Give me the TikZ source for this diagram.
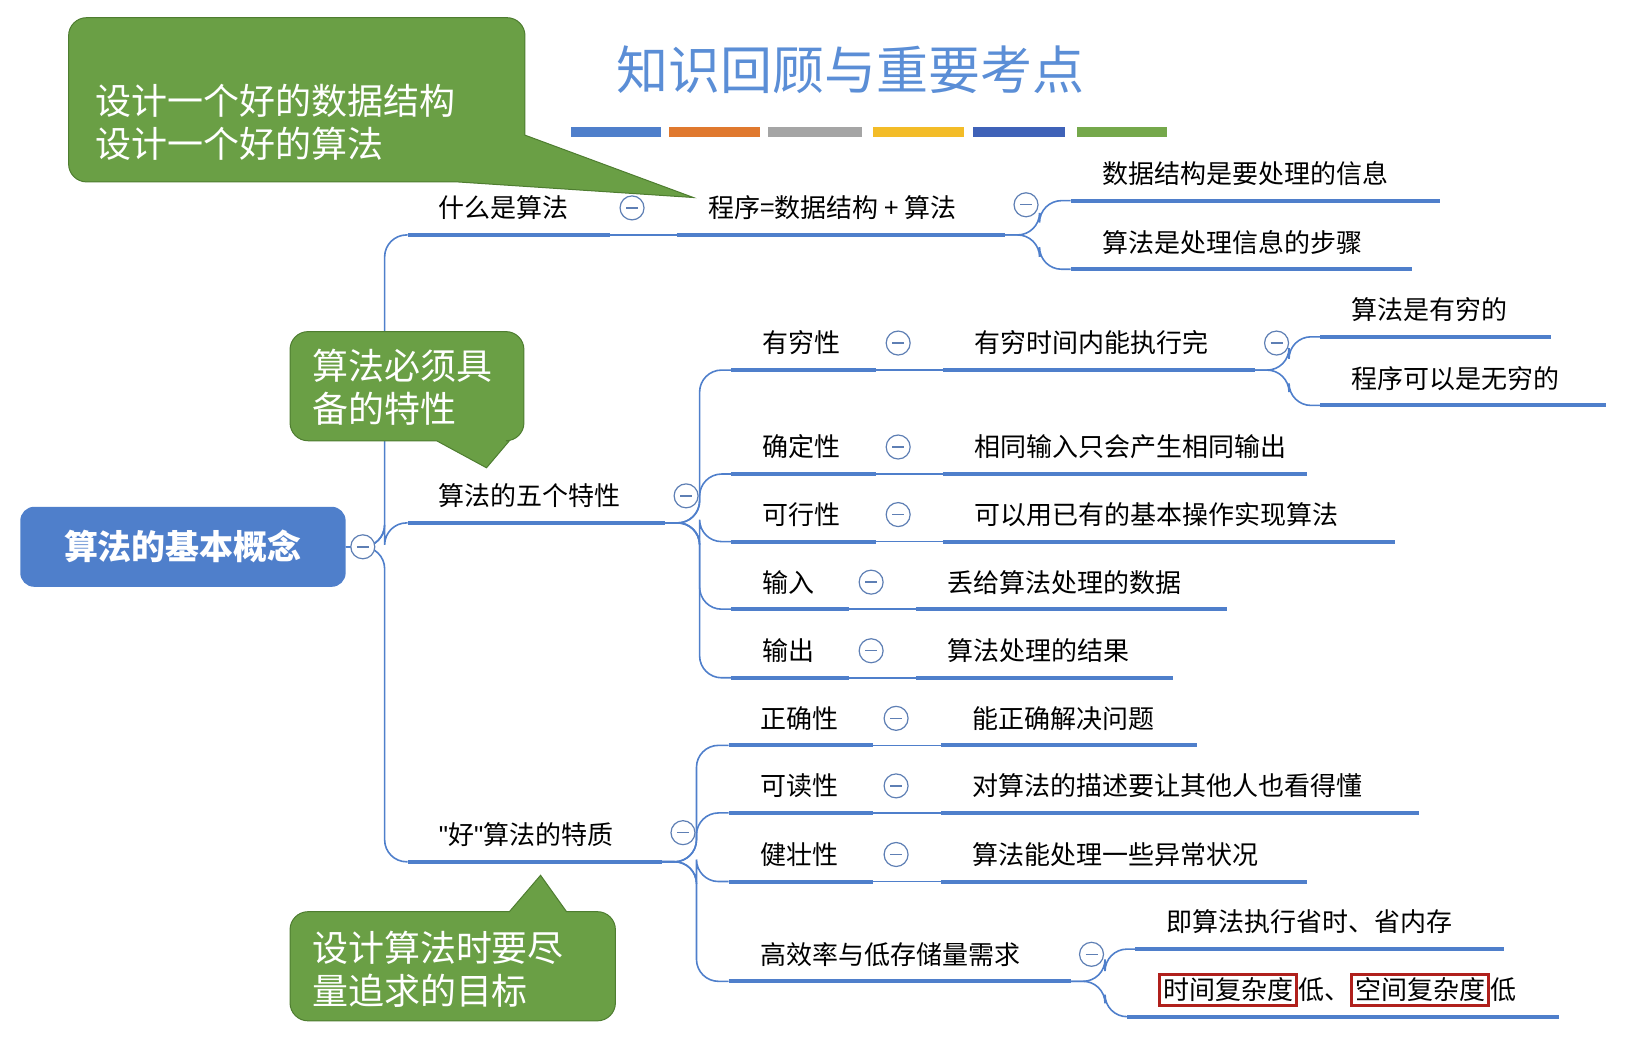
\documentclass[tikz,border=0pt]{standalone}
\usepackage{fontspec}
\setmainfont{Noto Sans CJK SC}
\newfontfamily\qfont{Liberation Sans}
\definecolor{mmblue}{HTML}{4F7FCB}
\definecolor{mmgreen}{HTML}{6A9F45}
\definecolor{mmgreend}{HTML}{4E7D30}
\definecolor{mmtitle}{HTML}{5B8ED6}
\definecolor{mmred}{HTML}{B0201C}
\tikzset{
  item/.style={anchor=west, inner sep=0pt, font=\fontsize{26}{30}\selectfont},
  uline/.style={mmblue, line width=4pt},
  conn/.style={mmblue, line width=1.6pt, rounded corners=22pt},
  fold/.style={circle, draw=mmblue!70!gray, line width=1.2pt, fill=white, minimum size=24pt, inner sep=0pt,
    path picture={\draw[mmblue!70!gray, line width=1.4pt] ([xshift=6pt]path picture bounding box.west) -- ([xshift=-6pt]path picture bounding box.east);}},
  callout/.style={fill=mmgreen, draw=mmgreend, line width=1pt},
  calltext/.style={anchor=west, inner sep=0pt, text=white, font=\fontsize{36}{40}\selectfont},
}
% one item of the map: name, line start, line end, y, text
\newcommand\mmitem[5]{%
  \node[item] (#1) at (#2+30,#4) {#5};
  \coordinate (#1-l) at (#2,#4+26);
  \coordinate (#1-r) at (#3,#4+26);
  \draw[uline] (#1-l) -- (#1-r);}
\newcommand\mmfold[3]{\node[fold] (#1) at (#2,#3) {};}
\newcommand\redbox[1]{{\setlength\fboxrule{3pt}\setlength\fboxsep{2pt}\fcolorbox{mmred}{white}{#1}}}
\begin{document}
\begin{tikzpicture}[x=1.04pt, y=-1.04pt]
    \useasboundingbox (0,0) rectangle (1568,1012);

    % Title
    \node[text=mmtitle, font=\fontsize{52}{56}\selectfont] (title) at (818,67) {知识回顾与重要考点};
    \foreach \xa/\xb/\col in {549/636/4F7FCB, 644/731/E0792F, 739/829/A5A5A5, 840/927/F3BC28, 936/1024/3F62B8, 1036/1123/75A84B} {
        \definecolor{barc}{HTML}{\col}
        \fill[barc] (\xa,122) rectangle (\xb,132);
    }

    % Root
    \node[fill=mmblue, rounded corners=14pt, minimum width=313pt*1.04, minimum height=77pt*1.04,
          text=white, font=\fontsize{34}{38}\selectfont\bfseries] (root) at (176,526) {算法的基本概念};

    % Level 1
    \mmitem{what}{392}{587}{200}{什么是算法}
    \mmitem{five}{392}{640}{477}{算法的五个特性}
    \mmitem{good}{392}{637}{803}{{\qfont"}好{\qfont"}算法的特质}
    \foreach \c in {what, five, good}
        \draw[conn] (root.east) -- (370,526) |- (\c-l);
    \mmfold{froot}{349}{526}

    % 什么是算法
    \mmitem{prog}{651}{967}{200}{程序=数据结构 + 算法}
    \draw[conn] (what-r) -- (prog-l);
    \mmitem{ds}{1030}{1385}{167}{数据结构是要处理的信息}
    \mmitem{alg}{1030}{1358}{233}{算法是处理信息的步骤}
    \foreach \c in {ds, alg}
        \draw[conn] (prog-r) -- ++(33,0) |- (\c-l);
    \mmfold{fwhat}{608}{200}
    \mmfold{fprog}{987}{197}

    % 五个特性
    \mmitem{fin}{703}{843}{330}{有穷性}
    \mmitem{det}{703}{843}{430}{确定性}
    \mmitem{fea}{703}{843}{495}{可行性}
    \mmitem{inp}{703}{817}{560}{输入}
    \mmitem{out}{703}{817}{626}{输出}
    \foreach \c in {fin, det, fea, inp, out}
        \draw[conn] (five-r) -- ++(33,0) |- (\c-l);
    \mmitem{fin1}{907}{1207}{330}{有穷时间内能执行完}
    \mmitem{det1}{907}{1257}{430}{相同输入只会产生相同输出}
    \mmitem{fea1}{907}{1342}{495}{可以用已有的基本操作实现算法}
    \mmitem{inp1}{881}{1180}{560}{丢给算法处理的数据}
    \mmitem{out1}{881}{1128}{626}{算法处理的结果}
    \foreach \a/\b in {fin/fin1, det/det1, fea/fea1, inp/inp1, out/out1}
        \draw[conn] (\a-r) -- (\b-l);
    \mmitem{fina}{1270}{1492}{298}{算法是有穷的}
    \mmitem{finb}{1270}{1545}{364}{程序可以是无穷的}
    \foreach \c in {fina, finb}
        \draw[conn] (fin1-r) -- ++(33,0) |- (\c-l);
    \mmfold{ffive}{660}{477}
    \mmfold{ffin}{864}{330}
    \mmfold{fdet}{864}{430}
    \mmfold{ffea}{864}{495}
    \mmfold{finp}{838}{560}
    \mmfold{fout}{838}{626}
    \mmfold{ffin1}{1228}{330}

    % 好算法的特质
    \mmitem{cor}{701}{840}{691}{正确性}
    \mmitem{rea}{701}{840}{756}{可读性}
    \mmitem{rob}{701}{840}{822}{健壮性}
    \mmitem{eff}{701}{1030}{918}{高效率与低存储量需求}
    \foreach \c in {cor, rea, rob, eff}
        \draw[conn] (good-r) -- ++(33,0) |- (\c-l);
    \mmitem{cor1}{905}{1151}{691}{能正确解决问题}
    \mmitem{rea1}{905}{1365}{756}{对算法的描述要让其他人也看得懂}
    \mmitem{rob1}{905}{1257}{822}{算法能处理一些异常状况}
    \foreach \a/\b in {cor/cor1, rea/rea1, rob/rob1}
        \draw[conn] (\a-r) -- (\b-l);
    \mmitem{effa}{1092}{1447}{887}{即算法执行省时、省内存}
    \mmitem{effb}{1084}{1500}{952}{\redbox{时间复杂度}低、\redbox{空间复杂度}低}
    \foreach \c in {effa, effb}
        \draw[conn] (eff-r) -- ++(33,0) |- (\c-l);
    \mmfold{fgood}{657}{801}
    \mmfold{fcor}{862}{691}
    \mmfold{frea}{862}{756}
    \mmfold{frob}{862}{822}
    \mmfold{feff}{1050}{918}

    % Callouts
    \draw[callout] (440,175) [rounded corners=18pt] -- (66,175) -- (66,17) -- (505,17) [sharp corners] -- (505,130) -- (667,190) -- cycle;
    \node[calltext] (c1a) at (92,97) {设计一个好的数据结构};
    \node[calltext] (c1b) at (92,138) {设计一个好的算法};
    \draw[callout] (420,424) [rounded corners=18pt] -- (279,424) -- (279,319) -- (504,319) -- (504,424) [sharp corners] -- (490,424) -- (468,450) -- cycle;
    \node[calltext] (c2a) at (300,352) {算法必须具};
    \node[calltext] (c2b) at (300,393) {备的特性};
    \draw[callout] (490,877) [rounded corners=18pt] -- (279,877) -- (279,982) -- (592,982) -- (592,877) [sharp corners] -- (545,877) -- (520,842) -- cycle;
    \node[calltext] (c3a) at (300,912) {设计算法时要尽};
    \node[calltext] (c3b) at (300,953) {量追求的目标};
\end{tikzpicture}
\end{document}
